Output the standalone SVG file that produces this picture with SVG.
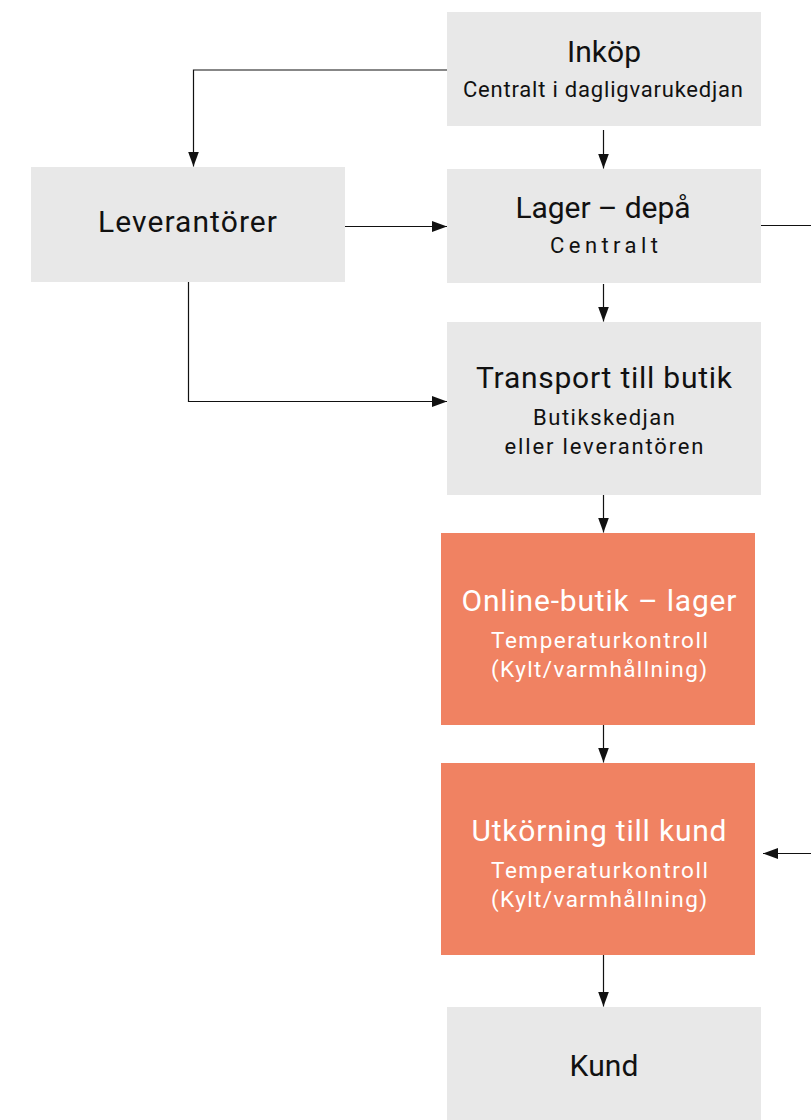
<svg xmlns="http://www.w3.org/2000/svg" width="811" height="1120" viewBox="0 0 811 1120">
<style>
.box{fill:#E8E8E8}
.hot{fill:#F08262}
.t{font-family:Roboto,"Liberation Sans",sans-serif;font-size:30px;font-weight:400;fill:#111;text-anchor:middle}
.s{font-family:Roboto,"Liberation Sans",sans-serif;font-size:22px;font-weight:400;fill:#111;text-anchor:middle}
.w{fill:#fff}
.s2{font-size:22.5px}
.c{fill:none;stroke:#111;stroke-width:1.2}
</style>
<defs>
<marker id="ah" markerUnits="userSpaceOnUse" markerWidth="15" markerHeight="11" refX="15" refY="5.5" orient="auto">
<path d="M0,0 L15,5.5 L0,11 z" fill="#111"/>
</marker>
</defs>
<g id="connectors">
<path class="c" d="M603.5,130 V168.5" marker-end="url(#ah)"/>
<path class="c" d="M447,70 H193.5 V166.5" marker-end="url(#ah)"/>
<path class="c" d="M345,226.5 H447" marker-end="url(#ah)"/>
<path class="c" d="M188.5,282 V401.5 H447" marker-end="url(#ah)"/>
<path class="c" d="M603.5,284 V321.5" marker-end="url(#ah)"/>
<path class="c" d="M761,225.5 H811"/>
<path class="c" d="M603.5,495 V532.5" marker-end="url(#ah)"/>
<path class="c" d="M603.5,725 V762.5" marker-end="url(#ah)"/>
<path class="c" d="M811,853.5 H763" marker-end="url(#ah)"/>
<path class="c" d="M603.5,955 V1006.5" marker-end="url(#ah)"/>
</g>
<g id="inkop">
<rect class="box" x="447" y="12" width="314" height="114"/>
<text class="t" x="604" y="62" textLength="74">Inköp</text>
<text class="s" x="603" y="97" textLength="280">Centralt i dagligvarukedjan</text>
</g>
<g id="leverantorer">
<rect class="box" x="31" y="167" width="314" height="115"/>
<text class="t" x="187.5" y="231.5" textLength="179">Leverantörer</text>
</g>
<g id="lager">
<rect class="box" x="447" y="169" width="314" height="114"/>
<text class="t" x="603" y="218" textLength="175">Lager – depå</text>
<text class="s" x="604" y="253" textLength="108">Centralt</text>
</g>
<g id="transport">
<rect class="box" x="447" y="322" width="314" height="173"/>
<text class="t" x="604" y="388" textLength="256">Transport till butik</text>
<text class="s" x="604" y="425" textLength="142">Butikskedjan</text>
<text class="s" x="604" y="454" textLength="199">eller leverantören</text>
</g>
<g id="online">
<rect class="hot" x="441" y="533" width="314" height="192"/>
<text class="t w" x="599" y="611" textLength="275">Online-butik – lager</text>
<text class="s s2 w" x="599.5" y="647.5" textLength="217">Temperaturkontroll</text>
<text class="s s2 w" x="599" y="676.5" textLength="216">(Kylt/varmhållning)</text>
</g>
<g id="utkorning">
<rect class="hot" x="441" y="763" width="314" height="192"/>
<text class="t w" x="599" y="841" textLength="255">Utkörning till kund</text>
<text class="s s2 w" x="599.5" y="877.5" textLength="217">Temperaturkontroll</text>
<text class="s s2 w" x="599" y="906.5" textLength="216">(Kylt/varmhållning)</text>
</g>
<g id="kund">
<rect class="box" x="447" y="1007" width="314" height="113"/>
<text class="t" x="604" y="1076" textLength="69">Kund</text>
</g>
</svg>
